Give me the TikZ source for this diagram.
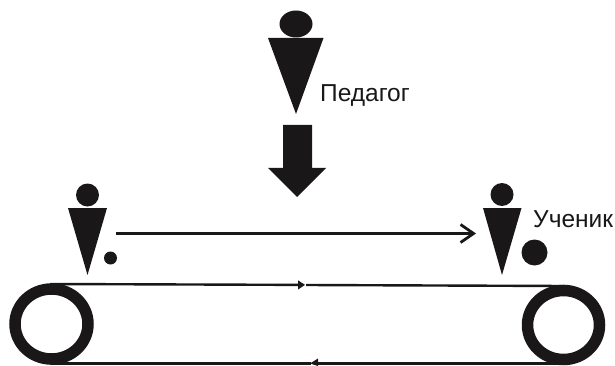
\documentclass[tikz,border=0pt]{standalone}
\usepackage{fontspec}
\setmainfont{Liberation Sans}
\usetikzlibrary{arrows.meta}
\definecolor{ink}{HTML}{1A1718}
\tikzset{
  solid ink/.style={fill=ink,draw=none},
  belt/.style={draw=ink,line width=2.4pt},
  roller/.style={draw=ink,line width=11.5pt,fill=none},
  label/.style={text=ink,font=\fontsize{24.5}{28}\selectfont,inner sep=0pt,anchor=base west},
  pass/.style={draw=ink,line width=2.8pt,-{Straight Barb[length=13pt,width=18pt,line width=2.8pt]}}
}
\begin{document}
\begin{tikzpicture}[x=1pt,y=-1pt]
\useasboundingbox (0,0) rectangle (615,366);
% teacher
\fill[solid ink] (296,24) ellipse [x radius=16.5,y radius=13.5];
\fill[solid ink] (268,38) -- (323.5,38) -- (296,114) -- cycle;
\node[label] (teacher) at (320,102) {Педагог};
% block arrow
\fill[solid ink] (283,125) -- (312,125) -- (312,168) -- (326,168) -- (297,197) -- (268,168) -- (283,168) -- cycle;
% left learner
\fill[solid ink] (87.5,195) circle [radius=11.5];
\fill[solid ink] (68,208) -- (107,208) -- (87.5,275) -- cycle;
\fill[solid ink] (110.5,258) circle [radius=6.5];
% right learner
\fill[solid ink] (502,194.5) circle [radius=11.5];
\fill[solid ink] (483,208) -- (521.5,208) -- (502,275) -- cycle;
\fill[solid ink] (534.5,252.5) circle [radius=13];
\node[label] (learner) at (533,227) {Ученик};
% transfer arrow
\coordinate (from) at (116,233.5);
\coordinate (to) at (476,233.5);
\draw[pass] (from) -- (to);
% conveyor
\coordinate (rollerL) at (51.5,324);
\coordinate (rollerR) at (563.5,325);
\draw[roller] (rollerL) ellipse [x radius=36.5,y radius=35];
\draw[roller] (rollerR) ellipse [x radius=36,y radius=34.5];
\coordinate (tl) at (50,284);
\coordinate (tr) at (565,286);
\coordinate (bl) at (50,363.5);
\coordinate (br) at (565,363.5);
\draw[belt] (tl) -- (303,284.9);
\draw[belt] (306,285) -- (tr);
\fill[solid ink] (298,280.3) -- (305,284.9) -- (298,289.5) -- cycle;
\draw[belt] (bl) -- (311,363.5);
\draw[belt] (315,363.5) -- (br);
\fill[solid ink] (318,358.5) -- (310,363.5) -- (318,366) -- cycle;
\end{tikzpicture}
\end{document}
